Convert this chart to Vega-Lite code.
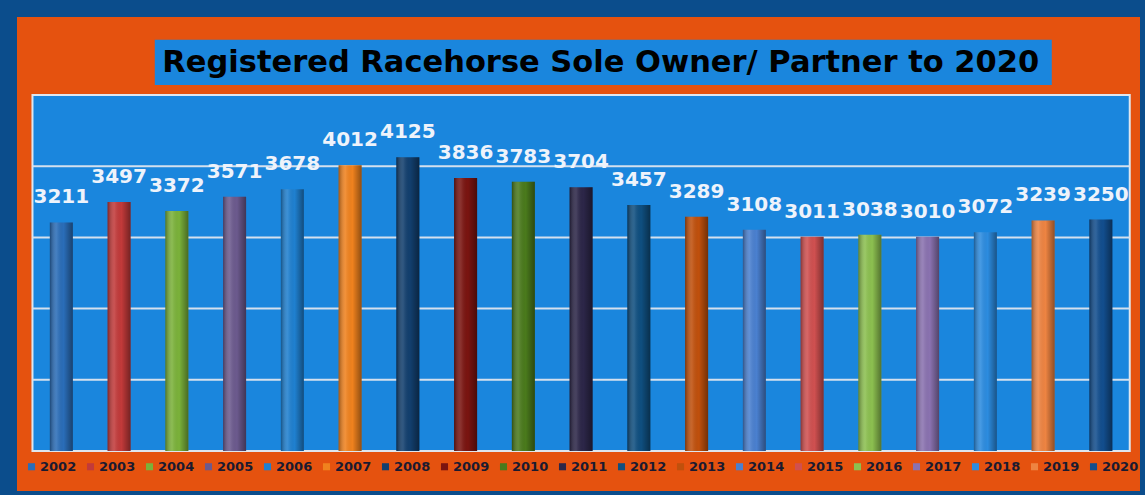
{
  "$schema": "https://vega.github.io/schema/vega-lite/v6.json",
  "width": 1145,
  "height": 495,
  "autosize": {"type": "fit", "contains": "padding"},
  "padding": {"left": 17, "top": 17, "right": 5, "bottom": 4},
  "background": "#0b4d8c",
  "config": {"view": {"fill": "#e5520f", "stroke": null}},
  "data": {"values": [
    {"year": 2002, "label": "2002", "value": 3211},
    {"year": 2003, "label": "2003", "value": 3497},
    {"year": 2004, "label": "2004", "value": 3372},
    {"year": 2005, "label": "2005", "value": 3571},
    {"year": 2006, "label": "2006", "value": 3678},
    {"year": 2007, "label": "2007", "value": 4012},
    {"year": 2008, "label": "2008", "value": 4125},
    {"year": 2009, "label": "2009", "value": 3836},
    {"year": 2010, "label": "2010", "value": 3783},
    {"year": 2011, "label": "2011", "value": 3704},
    {"year": 2012, "label": "2012", "value": 3457},
    {"year": 2013, "label": "2013", "value": 3289},
    {"year": 2014, "label": "2014", "value": 3108},
    {"year": 2015, "label": "2015", "value": 3011},
    {"year": 2016, "label": "2016", "value": 3038},
    {"year": 2017, "label": "2017", "value": 3010},
    {"year": 2018, "label": "2018", "value": 3072},
    {"year": 2019, "label": "2019", "value": 3239},
    {"year": 2020, "label": "2020", "value": 3250}
  ]},
  "layer": [
    {
      "data": {"values": [{}]},
      "mark": {"type": "rect", "fill": "#1a86dd", "stroke": "#dfe6ee", "strokeWidth": 2},
      "encoding": {
        "x": {"datum": 2001.5, "type": "quantitative", "scale": {"domain": [2001.3187, 2020.591], "nice": false, "zero": false}, "axis": null},
        "x2": {"datum": 2020.5},
        "y": {"datum": 0, "type": "quantitative", "scale": {"domain": [-562, 6096], "nice": false, "zero": false}, "axis": null},
        "y2": {"datum": 5000}
      }
    },
    {
      "data": {"values": [{"g": 1000}, {"g": 2000}, {"g": 3000}, {"g": 4000}]},
      "mark": {"type": "rule", "color": "#d4e0ee", "strokeWidth": 2},
      "encoding": {
        "x": {"datum": 2001.5, "type": "quantitative"},
        "x2": {"datum": 2020.5},
        "y": {"field": "g", "type": "quantitative"}
      }
    },
    {
      "mark": {"type": "bar", "width": 23},
      "encoding": {
        "x": {"field": "year", "type": "quantitative"},
        "y": {"field": "value", "type": "quantitative"},
        "color": {
          "field": "label", "type": "nominal",
          "scale": {
            "domain": ["2002","2003","2004","2005","2006","2007","2008","2009","2010","2011","2012","2013","2014","2015","2016","2017","2018","2019","2020"],
            "range": ["#2a6db8","#c23a3a","#7bb23a","#6c5a8e","#1f80d0","#f0821e","#123f6e","#7a1410","#4a7a1c","#2c2648","#0f4f80","#c0500c","#4a80d0","#d05050","#8cc050","#8a72b0","#2c8ce0","#ee8442","#124e8e"]
          },
          "legend": {
            "orient": "none",
            "legendX": 8,
            "legendY": 443,
            "direction": "horizontal",
            "columns": 19,
            "title": null,
            "symbolType": "square",
            "symbolSize": 50,
            "symbolStrokeWidth": 0,
            "symbolOpacity": 1,
            "labelFont": "DejaVu Sans",
            "labelFontWeight": "bold",
            "labelFontSize": 13,
            "labelColor": "#1a1a30",
            "labelOffset": 2,
            "columnPadding": 7,
            "padding": 0
          }
        }
      }
    },
    {
      "mark": {"type": "bar", "width": 23, "color": {"gradient": "linear", "x1": 0, "x2": 1, "y1": 0, "y2": 0, "stops": [
        {"offset": 0, "color": "rgba(0,0,0,0.35)"},
        {"offset": 0.3, "color": "rgba(255,255,255,0.12)"},
        {"offset": 0.6, "color": "rgba(0,0,0,0)"},
        {"offset": 1, "color": "rgba(0,0,0,0.4)"}
      ]}},
      "encoding": {
        "x": {"field": "year", "type": "quantitative"},
        "y": {"field": "value", "type": "quantitative"}
      }
    },
    {
      "mark": {"type": "text", "font": "DejaVu Sans", "fontWeight": "bold", "fontSize": 20, "color": "#eef3fb", "dy": -19, "baseline": "alphabetic", "align": "center"},
      "encoding": {
        "x": {"field": "year", "type": "quantitative"},
        "y": {"field": "value", "type": "quantitative"},
        "text": {"field": "value", "type": "quantitative", "format": "d"}
      }
    },
    {
      "data": {"values": [{"t": "Registered Racehorse Sole Owner/ Partner to 2020"}]},
      "mark": {"type": "rect", "fill": "#1a86dd"},
      "encoding": {
        "x": {"datum": 2003.618, "type": "quantitative"},
        "x2": {"datum": 2019.15},
        "y": {"datum": 5775, "type": "quantitative"},
        "y2": {"datum": 5141}
      }
    },
    {
      "data": {"values": [{"t": "Registered Racehorse Sole Owner/ Partner to 2020"}]},
      "mark": {"type": "text", "font": "DejaVu Sans", "fontWeight": "bold", "fontSize": 30.5, "color": "#000000", "align": "center", "baseline": "middle"},
      "encoding": {
        "x": {"datum": 2011.34, "type": "quantitative"},
        "y": {"datum": 5450, "type": "quantitative"},
        "text": {"field": "t"}
      }
    }
  ]
}
